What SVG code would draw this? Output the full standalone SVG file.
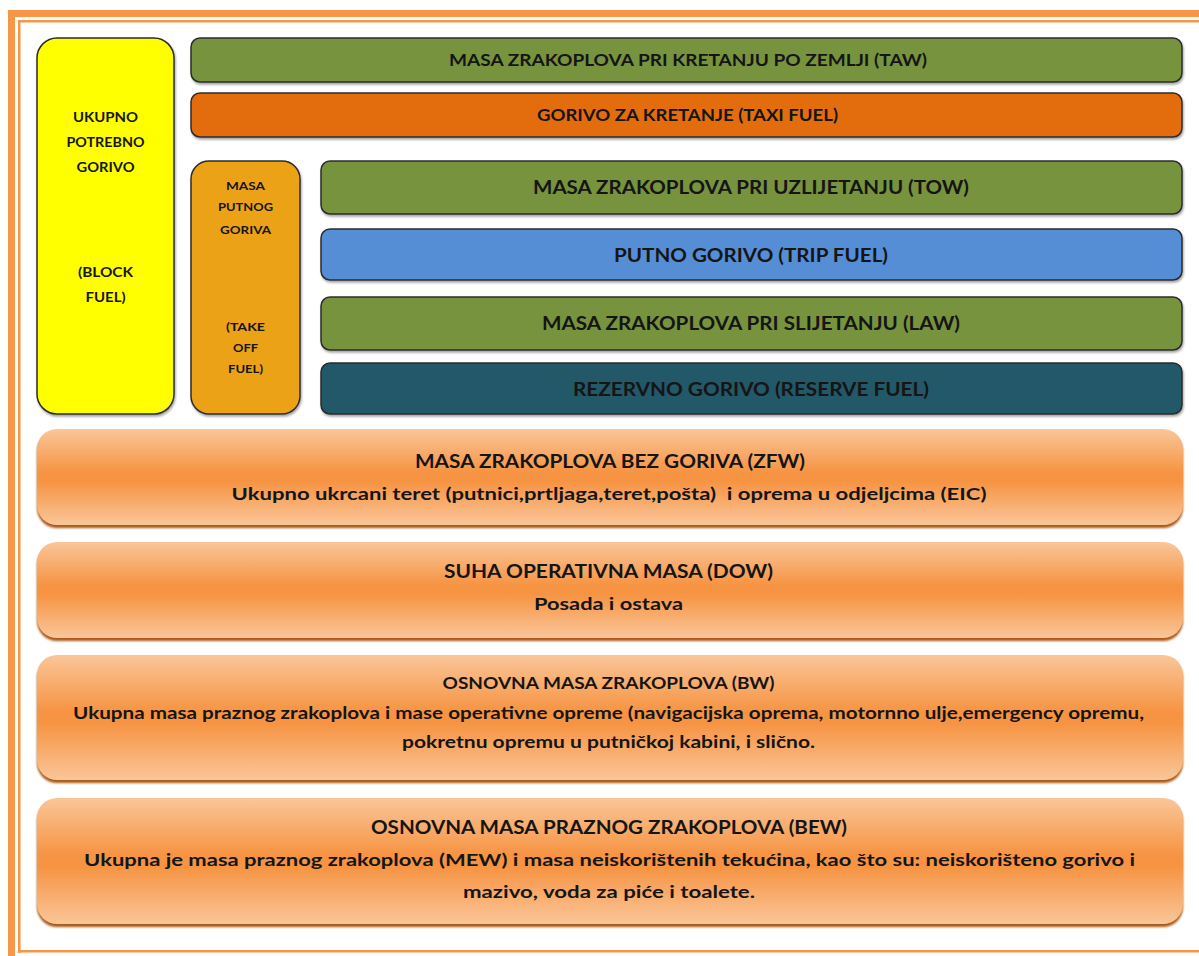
<svg xmlns="http://www.w3.org/2000/svg" width="1199" height="956" viewBox="0 0 1199 956">
<defs>
<linearGradient id="og" x1="0" y1="0" x2="0" y2="1">
<stop offset="0" stop-color="#FAC699"/>
<stop offset="0.45" stop-color="#F69443"/>
<stop offset="0.55" stop-color="#F69443"/>
<stop offset="1" stop-color="#FAC699"/>
</linearGradient>
<filter id="sh" x="-5%" y="-20%" width="110%" height="150%">
<feDropShadow dx="1" dy="2" stdDeviation="1.2" flood-color="#000" flood-opacity="0.35"/>
</filter>
<filter id="bl" x="-5%" y="-20%" width="110%" height="150%">
<feGaussianBlur stdDeviation="1"/>
</filter>
</defs>
<style>
.box{stroke:#2b2b2b;stroke-width:1.5;filter:url(#sh)}
.t{font-family:Lato,"Open Sans","Liberation Sans",sans-serif;font-weight:bold;fill:#151515;text-anchor:middle}
.ob{fill:url(#og)}
.os{fill:#A85A14;filter:url(#bl)}
.bd{fill:#F79646}
</style>
<rect width="1199" height="956" fill="#fff"/>
<g id="border">
<rect class="bd" x="8" y="10" width="1191" height="7"/>
<rect class="bd" x="8" y="10" width="7" height="946"/>
<rect class="bd" x="18" y="20" width="1181" height="2.5"/>
<rect class="bd" x="18" y="20" width="2.5" height="933"/>
<rect class="bd" x="18" y="950" width="1181" height="2.5"/>
</g>
<g id="connectors"></g>
<g id="block-fuel">
<rect class="box" x="37" y="38" width="137" height="376" rx="20" fill="#FFFF00"/>
<text class="t" font-size="14" x="105.5" y="122" textLength="65" lengthAdjust="spacingAndGlyphs">UKUPNO</text>
<text class="t" font-size="14" x="105.5" y="147" textLength="78" lengthAdjust="spacingAndGlyphs">POTREBNO</text>
<text class="t" font-size="14" x="105.5" y="172" textLength="58" lengthAdjust="spacingAndGlyphs">GORIVO</text>
<text class="t" font-size="14" x="105.5" y="277" textLength="55" lengthAdjust="spacingAndGlyphs">(BLOCK</text>
<text class="t" font-size="14" x="105.5" y="302" textLength="40" lengthAdjust="spacingAndGlyphs">FUEL)</text>
</g>
<g id="taw">
<rect class="box" x="191" y="38" width="991" height="44" rx="9" fill="#77933C"/>
<text class="t" font-size="17" x="688" y="66" textLength="478" lengthAdjust="spacingAndGlyphs">MASA ZRAKOPLOVA PRI KRETANJU PO ZEMLJI (TAW)</text>
</g>
<g id="taxi-fuel">
<rect class="box" x="191" y="93" width="991" height="44" rx="9" fill="#E36C09"/>
<text class="t" font-size="17" x="687.5" y="121" textLength="301" lengthAdjust="spacingAndGlyphs">GORIVO ZA KRETANJE (TAXI FUEL)</text>
</g>
<g id="takeoff-fuel">
<rect class="box" x="191" y="161" width="109" height="253" rx="18" fill="#EBA215"/>
<text class="t" font-size="12" x="245.5" y="190" textLength="39" lengthAdjust="spacingAndGlyphs">MASA</text>
<text class="t" font-size="12" x="245.5" y="211" textLength="55" lengthAdjust="spacingAndGlyphs">PUTNOG</text>
<text class="t" font-size="12" x="245.5" y="234" textLength="51" lengthAdjust="spacingAndGlyphs">GORIVA</text>
<text class="t" font-size="12" x="245.5" y="331" textLength="39" lengthAdjust="spacingAndGlyphs">(TAKE</text>
<text class="t" font-size="12" x="245.5" y="352" textLength="25" lengthAdjust="spacingAndGlyphs">OFF</text>
<text class="t" font-size="12" x="245.5" y="373" textLength="35" lengthAdjust="spacingAndGlyphs">FUEL)</text>
</g>
<g id="tow">
<rect class="box" x="321" y="161" width="861" height="53" rx="9" fill="#77933C"/>
<text class="t" font-size="19" x="751" y="194" textLength="436" lengthAdjust="spacingAndGlyphs">MASA ZRAKOPLOVA PRI UZLIJETANJU (TOW)</text>
</g>
<g id="trip-fuel">
<rect class="box" x="321" y="229" width="861" height="51" rx="9" fill="#558ED5"/>
<text class="t" font-size="19" x="751" y="262" textLength="274" lengthAdjust="spacingAndGlyphs">PUTNO GORIVO (TRIP FUEL)</text>
</g>
<g id="law">
<rect class="box" x="321" y="297" width="861" height="53" rx="9" fill="#77933C"/>
<text class="t" font-size="19" x="751" y="330" textLength="418" lengthAdjust="spacingAndGlyphs">MASA ZRAKOPLOVA PRI SLIJETANJU (LAW)</text>
</g>
<g id="reserve-fuel">
<rect class="box" x="321" y="363" width="861" height="51" rx="9" fill="#215968"/>
<text class="t" font-size="19" x="751" y="396" textLength="356" lengthAdjust="spacingAndGlyphs">REZERVNO GORIVO (RESERVE FUEL)</text>
</g>
<g id="zfw">
<rect class="os" x="37" y="432" width="1146" height="96" rx="20"/>
<rect class="ob" x="37" y="429" width="1146" height="96" rx="20"/>
<text class="t" font-size="19" x="610" y="468" textLength="390" lengthAdjust="spacingAndGlyphs">MASA ZRAKOPLOVA BEZ GORIVA (ZFW)</text>
<text class="t" font-size="17" x="609" y="500" textLength="755" lengthAdjust="spacingAndGlyphs" xml:space="preserve">Ukupno ukrcani teret (putnici,prtljaga,teret,pošta)  i oprema u odjeljcima (EIC)</text>
</g>
<g id="dow">
<rect class="os" x="37" y="545" width="1146" height="96" rx="20"/>
<rect class="ob" x="37" y="542" width="1146" height="96" rx="20"/>
<text class="t" font-size="19" x="608.5" y="578" textLength="329" lengthAdjust="spacingAndGlyphs">SUHA OPERATIVNA MASA (DOW)</text>
<text class="t" font-size="17" x="608.5" y="610" textLength="149" lengthAdjust="spacingAndGlyphs">Posada i ostava</text>
</g>
<g id="bw">
<rect class="os" x="37" y="658" width="1146" height="125" rx="20"/>
<rect class="ob" x="37" y="655" width="1146" height="125" rx="20"/>
<text class="t" font-size="17" x="608.5" y="689" textLength="332" lengthAdjust="spacingAndGlyphs">OSNOVNA MASA ZRAKOPLOVA (BW)</text>
<text class="t" font-size="17" x="608.5" y="719" textLength="1071" lengthAdjust="spacingAndGlyphs">Ukupna masa praznog zrakoplova i mase operativne opreme (navigacijska oprema, motornno ulje,emergency opremu,</text>
<text class="t" font-size="17" x="608.5" y="748" textLength="413" lengthAdjust="spacingAndGlyphs">pokretnu opremu u putničkoj kabini, i slično.</text>
</g>
<g id="bew">
<rect class="os" x="37" y="801" width="1146" height="126" rx="20"/>
<rect class="ob" x="37" y="798" width="1146" height="126" rx="20"/>
<text class="t" font-size="19" x="609" y="834" textLength="476" lengthAdjust="spacingAndGlyphs">OSNOVNA MASA PRAZNOG ZRAKOPLOVA (BEW)</text>
<text class="t" font-size="17" x="609.5" y="866" textLength="1051" lengthAdjust="spacingAndGlyphs">Ukupna je masa praznog zrakoplova (MEW) i masa neiskorištenih tekućina, kao što su: neiskorišteno gorivo i</text>
<text class="t" font-size="17" x="609" y="898" textLength="292" lengthAdjust="spacingAndGlyphs">mazivo, voda za piće i toalete.</text>
</g>
</svg>
